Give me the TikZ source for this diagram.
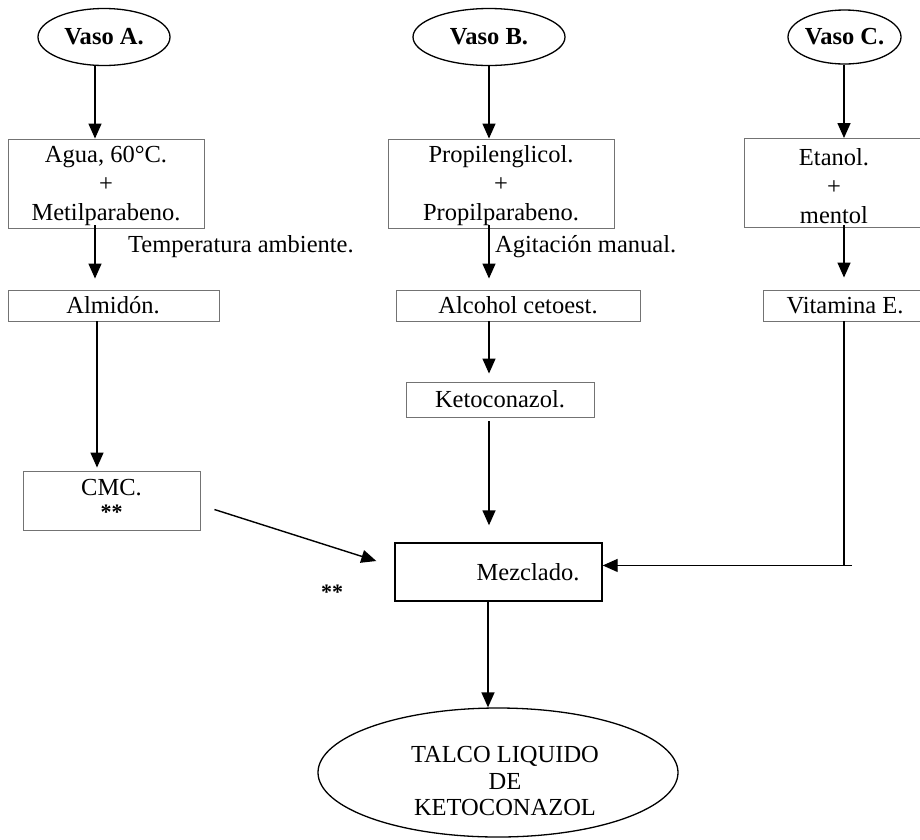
\documentclass[tikz,border=0pt]{standalone}
\usepackage{fontspec}
\setmainfont{Liberation Serif}
\usetikzlibrary{arrows.meta,shapes.geometric,calc}
\tikzset{
  txt/.style={font=\fontsize{24.5}{29}\selectfont, inner sep=0pt},
  greybox/.style={draw=black!55, line width=0.9pt, rectangle, inner sep=0pt},
  blackbox/.style={draw=black, line width=1.4pt, rectangle, inner sep=0pt},
  vaso/.style={txt, draw=black, line width=1.3pt, ellipse, font=\fontsize{24.5}{29}\selectfont\bfseries},
  stars/.style={inner sep=0pt, font=\fontsize{22}{24}\selectfont\bfseries},
  flow/.style={draw=black, line width=1.4pt, -{Triangle[width=13pt,length=15pt]}},
  plainline/.style={draw=black, line width=1.4pt}
}
\begin{document}
\begin{tikzpicture}[x=1pt,y=-1pt]
\useasboundingbox (0,0) rectangle (920,839);
% ellipses
\node[vaso, minimum width=132pt, minimum height=57pt] (va) at (104,37) {Vaso A.};
\node[vaso, minimum width=152pt, minimum height=57pt] (vb) at (489,37) {Vaso B.};
\node[vaso, minimum width=113pt, minimum height=54pt] (vc) at (844.5,37) {Vaso C.};
% first row boxes
\node[greybox, minimum width=196pt, minimum height=89pt] (agua) at (106,183.5) {};
\node[txt, align=center] (aguat) at (106,186) {Agua, 60°C.\\+\\Metilparabeno.};
\node[greybox, minimum width=226pt, minimum height=89pt] (prop) at (501,183.5) {};
\node[txt, align=center] (propt) at (501,186) {Propilenglicol.\\+\\Propilparabeno.};
\node[greybox, minimum width=177pt, minimum height=89pt] (etan) at (832.5,183) {};
\node[txt, align=center] (etant) at (834,186) {Etanol.\\+\\mentol};
% labels
\node[txt, anchor=base west] (tamb) at (128,252) {Temperatura ambiente.};
\node[txt, anchor=base west] (agit) at (495,252) {Agitación manual.};
% second row
\node[greybox, minimum width=211pt, minimum height=31pt] (alm) at (113.5,305.5) {};
\node[txt] (almt) at (113,305.5) {Almidón.};
\node[greybox, minimum width=244pt, minimum height=31pt] (alc) at (518,305.5) {};
\node[txt] (alct) at (518,305.5) {Alcohol cetoest.};
\node[greybox, minimum width=157pt, minimum height=31pt] (vit) at (841.5,305.5) {};
\node[txt] (vitt) at (845,305.5) {Vitamina E.};
% keto
\node[greybox, minimum width=188pt, minimum height=35pt] (keto) at (500,399.5) {};
\node[txt] (ketot) at (500,399.5) {Ketoconazol.};
% CMC
\node[greybox, minimum width=177pt, minimum height=59pt] (cmc) at (111.5,500.5) {};
\node[txt] (cmct) at (111.5,488) {CMC.};
\node[stars] (cmcs) at (111.5,512) {**};
% Mezclado
\node[blackbox, minimum width=207pt, minimum height=58pt] (mez) at (498.5,572) {};
\node[txt] (mezt) at (528,572) {Mezclado.};
\node[stars] (starsl) at (332,592) {**};
% final ellipse
\node[draw=black, line width=1.3pt, ellipse, minimum width=360pt, minimum height=129pt, inner sep=0pt] (talco) at (498,772.5) {};
\node[txt, align=center, font=\fontsize{24.5}{26.5}\selectfont] (talcot) at (505,781) {TALCO LIQUIDO\\DE\\KETOCONAZOL};
% column coordinates
\coordinate (cA) at (95,0);
\coordinate (cA2) at (97,0);
\coordinate (cB) at (489,0);
\coordinate (cC) at (844,0);
% arrows
\draw[flow] (va.south -| cA) -- (agua.north -| cA);
\draw[flow] (vb.south -| cB) -- (prop.north -| cB);
\draw[flow] (vc.south -| cC) -- (etan.north -| cC);
\draw[flow, shorten >=11pt] ($(agua.south -| cA)+(0,-3)$) -- (alm.north -| cA);
\draw[flow, shorten >=11pt] ($(prop.south -| cB)+(0,-3)$) -- (alc.north -| cB);
\draw[flow, shorten >=12pt] ($(etan.south -| cC)+(0,-3)$) -- (vit.north -| cC);
\draw[flow, shorten >=3pt] (alm.south -| cA2) -- (cmc.north -| cA2);
\draw[flow, shorten >=8pt] (alc.south -| cB) -- (keto.north -| cB);
\draw[flow, shorten >=17pt, shorten <=4pt] (keto.south -| cB) -- (mez.north -| cB);
\coordinate (cmcout) at ($(cmc.east)+(14,9)$);
\coordinate (mezin) at ($(mez.west)+(-18,-11)$);
\draw[flow] (cmcout) -- (mezin);
\coordinate (corner) at ($(vit.south -| cC)+(0,244)$);
\coordinate (cornerR) at ($(corner)+(8,0)$);
\draw[plainline] (vit.south -| cC) -- (corner);
\draw[flow] (cornerR) -- (mez.east |- corner);
\draw[flow] (mez.south -| 488,0) -- (talco.north -| 488,0);
\end{tikzpicture}
\end{document}
